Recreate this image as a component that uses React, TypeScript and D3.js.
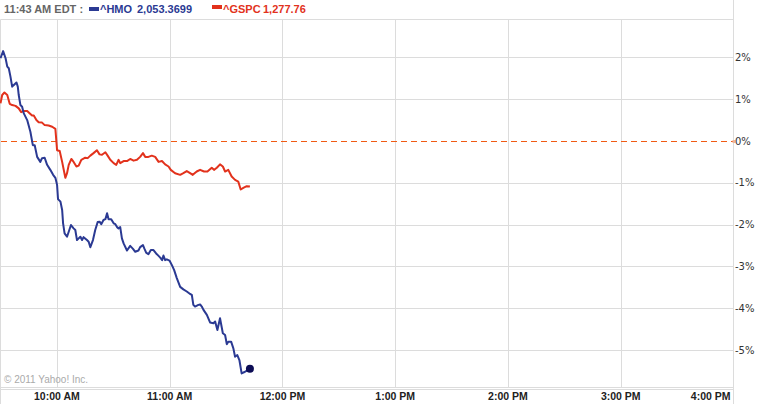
import React from "react";
import * as d3 from "d3";

const headerTime = "11:43 AM EDT :";
const seriesNames = ["^HMO", "^GSPC"];
const seriesQuotes = ["2,053.3699", "1,277.76"];
const copyright = "© 2011 Yahoo! Inc.";

const timeTickMinutes = [30, 90, 150, 210, 270, 330, 390];
const timeTickLabels = ["10:00 AM", "11:00 AM", "12:00 PM", "1:00 PM", "2:00 PM", "3:00 PM", "4:00 PM"];
const pctTicks = [2, 1, 0, -1, -2, -3, -4, -5];

const hmoMinutes = [0, 1.4, 2.7, 3.6, 4.4, 5.3, 6.2, 7.1, 8.5, 9.2, 9.7, 10.6, 11.5, 12.4, 14.2, 15.9, 17.2, 18.2, 19.5, 21.2, 22.1, 23.5, 24.8, 26.5, 28.0, 29.2, 30.1, 30.6, 31.9, 32.8, 33.3, 34.1, 35.4, 36.3, 37.5, 38.9, 39.8, 40.7, 41.6, 42.5, 43.4, 44.2, 46.0, 46.9, 47.8, 49.2, 50.4, 51.7, 52.7, 53.6, 54.8, 55.8, 56.7, 57.5, 58.9, 60.2, 61.1, 62.0, 62.8, 63.7, 64.6, 65.5, 67.3, 69.0, 70.5, 71.7, 73.4, 74.3, 75.8, 76.5, 77.5, 78.7, 80.0, 81.4, 82.8, 83.7, 85.0, 86.0, 86.7, 87.6, 88.5, 89.9, 91.2, 92.4, 93.8, 95.6, 97.3, 99.1, 100.9, 101.8, 102.6, 103.5, 105.3, 106.2, 107.1, 108.0, 109.8, 111.5, 113.3, 114.2, 115.4, 116.8, 118.3, 119.5, 120.4, 121.2, 122.7, 123.9, 124.8, 126.0, 127.1, 128.3, 130.1, 131.8, 132.7];
const hmoPct = [1.98, 2.15, 1.98, 1.78, 1.74, 1.54, 1.30, 1.34, 1.40, 1.30, 1.10, 0.86, 0.82, 0.66, 0.50, 0.22, -0.10, -0.10, -0.38, -0.50, -0.41, -0.40, -0.57, -0.69, -0.81, -0.88, -1.05, -1.39, -1.45, -1.65, -1.97, -2.21, -2.29, -2.17, -2.01, -2.09, -2.13, -2.37, -2.33, -2.29, -2.37, -2.30, -2.37, -2.41, -2.54, -2.37, -2.13, -1.94, -1.93, -1.99, -1.89, -1.87, -1.73, -1.87, -1.87, -1.97, -1.99, -2.06, -2.09, -2.06, -2.33, -2.45, -2.62, -2.51, -2.58, -2.65, -2.62, -2.54, -2.49, -2.57, -2.67, -2.71, -2.61, -2.61, -2.69, -2.73, -2.79, -2.85, -2.74, -2.85, -2.83, -2.86, -2.97, -3.09, -3.28, -3.49, -3.55, -3.60, -3.66, -3.68, -3.92, -3.96, -3.92, -3.91, -3.96, -4.04, -4.16, -4.34, -4.36, -4.32, -4.52, -4.24, -4.60, -4.64, -4.86, -4.80, -4.80, -4.96, -5.16, -5.12, -5.24, -5.56, -5.52, -5.48, -5.45];

const gspcMinutes = [0, 0.9, 2.1, 3.6, 4.9, 6.2, 8.0, 9.7, 11.0, 12.4, 14.2, 15.6, 16.8, 17.7, 19.1, 20.3, 22.1, 23.5, 25.6, 27.5, 29.2, 30.1, 31.5, 32.8, 34.5, 35.4, 36.3, 37.7, 38.9, 40.4, 41.6, 43.0, 45.1, 46.4, 47.8, 49.5, 51.3, 52.7, 54.0, 55.8, 57.0, 58.4, 60.2, 61.6, 62.8, 63.7, 65.5, 67.3, 69.0, 70.8, 72.6, 74.3, 75.8, 77.0, 78.7, 80.5, 82.3, 84.1, 85.9, 87.6, 89.4, 90.6, 92.9, 95.6, 97.3, 99.1, 100.9, 102.3, 104.4, 106.2, 108.3, 110.1, 112.4, 113.6, 115.1, 116.8, 118.3, 119.5, 121.2, 123.0, 124.8, 126.5, 127.8, 129.2, 131.0, 132.7];
const gspcPct = [0.90, 1.10, 1.16, 1.10, 0.89, 0.86, 0.84, 0.78, 0.69, 0.72, 0.72, 0.66, 0.61, 0.61, 0.50, 0.45, 0.44, 0.38, 0.37, 0.34, 0.29, -0.22, -0.24, -0.50, -0.88, -0.77, -0.57, -0.43, -0.50, -0.61, -0.59, -0.45, -0.40, -0.41, -0.35, -0.29, -0.22, -0.32, -0.33, -0.27, -0.35, -0.45, -0.53, -0.57, -0.45, -0.53, -0.48, -0.48, -0.43, -0.47, -0.45, -0.38, -0.29, -0.38, -0.38, -0.35, -0.38, -0.50, -0.48, -0.56, -0.61, -0.69, -0.77, -0.81, -0.77, -0.72, -0.77, -0.81, -0.73, -0.69, -0.73, -0.73, -0.64, -0.69, -0.64, -0.56, -0.61, -0.73, -0.69, -0.85, -0.93, -0.97, -1.16, -1.12, -1.08, -1.09];

const W = 759;
const H = 404;
const plotLeft = 0.5;
const plotRight = 733.5;
const plotTop = 19.5;
const plotBottom = 387.5;

const blue = "#2b3a93";
const red = "#e2321c";
const font = "'DejaVu Sans', Verdana, sans-serif";
const fontB = "'Liberation Sans', Arial, sans-serif";

export default function App() {
  const x = d3.scaleLinear().domain([0, 390]).range([plotLeft, plotRight]);
  const pxPerPct = 41.8;
  const zeroY = 141;
  const y = d3
    .scaleLinear()
    .domain([(zeroY - plotBottom) / pxPerPct, (zeroY - plotTop) / pxPerPct])
    .range([plotBottom, plotTop]);

  const line = d3
    .line<[number, number]>()
    .x((d) => x(d[0]))
    .y((d) => y(d[1]));

  const hmoData: [number, number][] = hmoMinutes.map((m, i) => [m, hmoPct[i]]);
  const gspcData: [number, number][] = gspcMinutes.map((m, i) => [m, gspcPct[i]]);
  const last = hmoData[hmoData.length - 1];

  const grid = "#dcdcdc";
  const zy = Math.round(y(0)) + 0.5;

  return (
    <svg
      width={W}
      height={H}
      style={{ position: "absolute", left: 0, top: 0, background: "#fff" }}
    >
      <rect x={0} y={0} width={W} height={H} fill="#fff" />
      {/* horizontal grid */}
      {pctTicks
        .filter((t) => t !== 0)
        .map((t) => (
          <line key={"h" + t} x1={plotLeft} x2={plotRight} y1={Math.round(y(t)) + 0.5} y2={Math.round(y(t)) + 0.5} stroke={grid} strokeWidth={1} />
        ))}
      {/* vertical grid */}
      {timeTickMinutes.slice(0, -1).map((m) => (
        <line key={"v" + m} x1={Math.round(x(m)) + 0.5} x2={Math.round(x(m)) + 0.5} y1={plotTop} y2={plotBottom} stroke={grid} strokeWidth={1} />
      ))}
      {/* frame */}
      <line x1={plotLeft} x2={plotRight} y1={plotTop} y2={plotTop} stroke={grid} />
      <line x1={plotLeft} x2={plotRight} y1={plotBottom} y2={plotBottom} stroke={grid} />
      <line x1={plotLeft} x2={plotLeft} y1={plotTop} y2={H} stroke={grid} />
      <line x1={plotRight} x2={plotRight} y1={0} y2={H} stroke={grid} />
      <line x1={plotLeft} x2={plotRight} y1={plotBottom + 2} y2={plotBottom + 2} stroke={grid} />
      {/* zero line */}
      <line x1={plotLeft} x2={plotRight} y1={zy} y2={zy} stroke="#f05a14" strokeWidth={1} strokeDasharray="6,4" shapeRendering="crispEdges" />
      <rect x={plotRight - 1} y={zy - 1.5} width={3} height={3} fill="#f0b49a" />

      {/* lines */}
      <path d={line(gspcData) || ""} fill="none" stroke={red} strokeWidth={2} strokeLinejoin="round" />
      <path d={line(hmoData) || ""} fill="none" stroke={blue} strokeWidth={2} strokeLinejoin="round" />
      <circle cx={x(last[0])} cy={y(last[1])} r={4} fill="#0c0c55" />

      {/* y labels */}
      {pctTicks.map((t) => (
        <text key={"yl" + t} x={735} y={y(t)} dy="0.35em" fontFamily={font} fontSize={10} fill="#333">
          {t + "%"}
        </text>
      ))}

      {/* x labels */}
      {timeTickMinutes.map((m, i) => (
        <text
          key={"xl" + m}
          x={i === timeTickMinutes.length - 1 ? x(m) - 3 : x(m)}
          y={399.5}
          textAnchor={i === timeTickMinutes.length - 1 ? "end" : "middle"}
          fontFamily={fontB}
          fontSize={10.5}
          fontWeight="bold"
          fill="#222"
        >
          {timeTickLabels[i]}
        </text>
      ))}

      {/* copyright */}
      <text x={4} y={383} fontFamily={fontB} fontSize={10} fill="#aaa">
        {copyright}
      </text>

      {/* header */}
      <text x={4} y={12.5} fontFamily={fontB} fontSize={11} fontWeight="bold" fill="#666">
        {headerTime}
      </text>
      <rect x={89} y={7} width={10} height={4} fill={blue} />
      <text x={100} y={12.5} fontFamily={fontB} fontSize={11} fontWeight="bold" fill={blue}>
        {seriesNames[0]}
        <tspan x={137}>{seriesQuotes[0]}</tspan>
      </text>
      <rect x={212} y={5} width={10} height={4} fill={red} />
      <text x={223} y={12.5} fontFamily={fontB} fontSize={11} fontWeight="bold" fill={red}>
        {seriesNames[1]}
        <tspan x={263}>{seriesQuotes[1]}</tspan>
      </text>
    </svg>
  );
}
